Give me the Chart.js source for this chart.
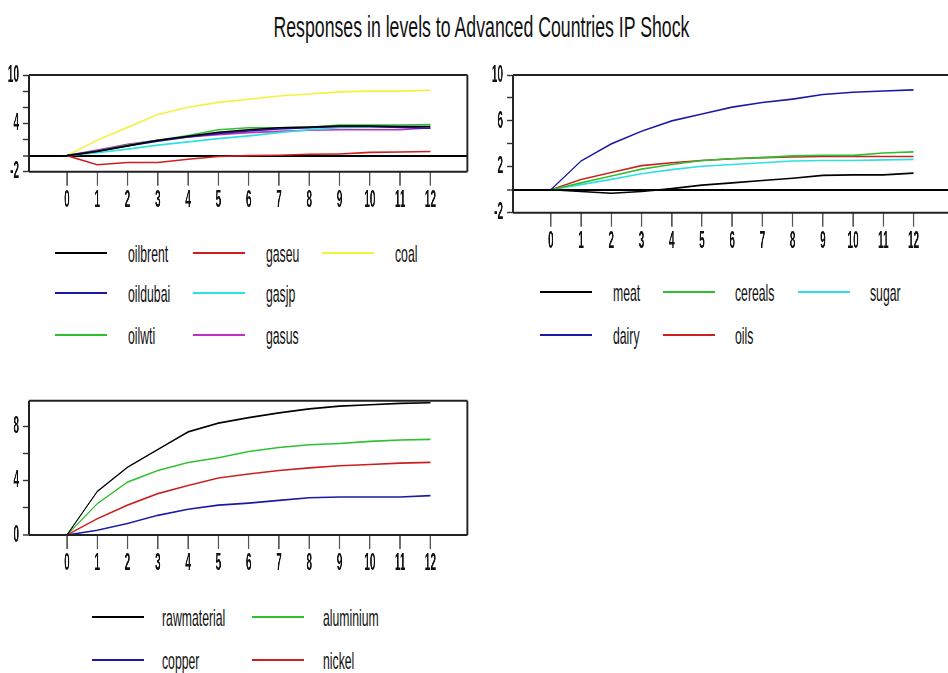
<!DOCTYPE html>
<html>
<head>
<meta charset="utf-8">
<script src="https://cdn.jsdelivr.net/npm/chart.js@4"></script>
<style>
  html, body { margin: 0; padding: 0; background: #fff; overflow: hidden; width: 948px; height: 673px; }
  body { position: relative; font-family: "Liberation Sans", Arial, sans-serif; color: #111; }
  .panel { position: absolute; transform-origin: 0 0; }
  .key { position: absolute; height: 2px; width: 52px; }
  .name { position: absolute; font-size: 24px; line-height: 24px; white-space: nowrap; transform-origin: 0 0; transform: scaleX(0.51); }
  #title { position: absolute; left: 0; top: 12px; width: 962px; text-align: center; font-size: 30px; line-height: 30px; }
  #title span { display: inline-block; white-space: nowrap; transform: scaleX(0.59); }
</style>
</head>
<body>
<div id="title"><span>Responses in levels to Advanced Countries IP Shock</span></div>
<script>
// horizons
const periods = [0, 1, 2, 3, 4, 5, 6, 7, 8, 9, 10, 11, 12];

// energy responses
const oilbrent = [0, 0.5, 1.2, 1.9, 2.4, 2.9, 3.2, 3.45, 3.55, 3.65, 3.65, 3.6, 3.6];
const oildubai = [0, 0.55, 1.2, 1.8, 2.3, 2.75, 3.05, 3.3, 3.45, 3.6, 3.6, 3.5, 3.4];
const oilwti = [0, 0.6, 1.3, 1.9, 2.5, 3.2, 3.45, 3.45, 3.5, 3.8, 3.8, 3.8, 3.85];
const gaseu = [0, -1.13, -0.85, -0.85, -0.45, -0.12, 0, 0.04, 0.16, 0.2, 0.4, 0.45, 0.5];
const gasjp = [0, 0.35, 0.8, 1.3, 1.7, 2.1, 2.45, 2.85, 3.2, 3.45, 3.5, 3.5, 3.6];
const gasus = [0, 0.7, 1.4, 1.9, 2.3, 2.6, 2.85, 3.0, 3.15, 3.2, 3.2, 3.2, 3.45];
const coal = [0, 1.9, 3.5, 5.1, 6.0, 6.6, 7.0, 7.4, 7.65, 7.9, 8.0, 8.0, 8.1];

// food responses
const meat = [0, -0.15, -0.3, -0.15, 0.1, 0.4, 0.6, 0.8, 1.0, 1.25, 1.3, 1.3, 1.45];
const dairy = [0, 2.5, 4.0, 5.1, 6.0, 6.6, 7.2, 7.6, 7.9, 8.3, 8.5, 8.6, 8.7];
const cereals = [0, 0.6, 1.2, 1.8, 2.2, 2.55, 2.7, 2.8, 2.95, 3.0, 3.0, 3.2, 3.3];
const oils = [0, 0.9, 1.5, 2.1, 2.35, 2.55, 2.7, 2.8, 2.85, 2.9, 2.9, 2.9, 2.9];
const sugar = [0, 0.45, 0.9, 1.4, 1.75, 2.05, 2.2, 2.35, 2.5, 2.55, 2.55, 2.6, 2.65];

// metals responses
const rawmaterial = [0, 3.2, 5.0, 6.3, 7.6, 8.25, 8.65, 9.0, 9.3, 9.5, 9.6, 9.7, 9.75];
const copper = [0, 0.35, 0.85, 1.45, 1.9, 2.2, 2.35, 2.55, 2.75, 2.8, 2.8, 2.8, 2.9];
const aluminium = [0, 2.3, 3.9, 4.75, 5.35, 5.7, 6.15, 6.45, 6.65, 6.75, 6.9, 7.0, 7.05];
const nickel = [0, 1.2, 2.2, 3.05, 3.65, 4.2, 4.5, 4.75, 4.95, 5.1, 5.2, 5.3, 5.35];

// y ticks
const yTicksTop = [-2, 0, 2, 4, 6, 8, 10];
const yLabels1 = [10, 4, -2];
const yLabels2 = [10, 6, 2, -2];
const yTicks3 = [0, 2, 4, 6, 8];
const yLabels3 = [8, 4, 0];

const C = {
  black: '#000000', blue: '#1a1aa6', green: '#2ec02e', red: '#cc1f1f',
  cyan: '#2ee0e0', magenta: '#c22ec2', yellow: '#f2f23a'
};
const SQ = 0.42;   // canvases are squeezed sideways like the original
const FONT = '"Liberation Sans", Arial, sans-serif';

const frame = {
  id: 'frame',
  afterDraw(chart) {
    const ctx = chart.ctx, a = chart.chartArea;
    ctx.save();
    ctx.strokeStyle = '#222';
    ctx.lineWidth = 2;
    ctx.beginPath();
    ctx.moveTo(a.left, a.top); ctx.lineTo(a.right, a.top);
    ctx.moveTo(a.left, a.bottom); ctx.lineTo(a.right, a.bottom);
    ctx.stroke();
    ctx.lineWidth = 2 / SQ;
    ctx.beginPath();
    ctx.moveTo(a.left, a.top); ctx.lineTo(a.left, a.bottom);
    ctx.moveTo(a.right, a.top); ctx.lineTo(a.right, a.bottom);
    ctx.stroke();
    ctx.restore();
  }
};

function makePanel(series, yMin, yMax, yTicks, yLabels, box, key) {
  const holder = document.createElement('div');
  holder.className = 'panel';
  holder.style.left = box.left + 'px';
  holder.style.top = box.top + 'px';
  holder.style.width = ((box.right - box.left) / SQ) + 'px';
  holder.style.height = (box.bottom - box.top) + 'px';
  holder.style.transform = 'scaleX(' + SQ + ')';
  const canvas = document.createElement('canvas');
  holder.appendChild(canvas);
  document.body.appendChild(holder);

  new Chart(canvas, {
    type: 'line',
    data: {
      datasets: series.map(s => ({
        label: s.name,
        data: periods.map((p, i) => ({ x: p, y: s.values[i] })),
        borderColor: s.color,
        borderWidth: 1.6,
        pointRadius: 0,
        tension: 0,
        fill: false
      }))
    },
    options: {
      responsive: true,
      maintainAspectRatio: false,
      animation: false,
      layout: { padding: { top: box.areaTop - box.top, right: (box.right - box.areaRight) / SQ, left: 0, bottom: 0 } },
      plugins: { legend: { display: false }, tooltip: { enabled: false } },
      scales: {
        x: {
          type: 'linear', min: -1.25, max: 13.22,
          afterBuildTicks: s => { s.ticks = periods.map(v => ({ value: v })); },
          afterFit: s => { s.height = box.bottom - box.areaBottom; s.paddingLeft = 0; s.paddingRight = 0; },
          border: { display: false },
          grid: { drawOnChartArea: false, tickLength: 14, tickWidth: 1.4 / SQ, tickColor: '#555' },
          ticks: { color: '#111', font: { family: FONT, size: 24, weight: 'bold' }, padding: 0, maxRotation: 0, autoSkip: false }
        },
        y: {
          type: 'linear', min: yMin, max: yMax,
          afterBuildTicks: s => { s.ticks = yTicks.map(v => ({ value: v })); },
          afterFit: s => { s.width = (box.areaLeft - box.left) / SQ; s.paddingTop = 0; s.paddingBottom = 0; },
          border: { display: false },
          grid: {
            color: c => (c.tick && c.tick.value === 0) ? '#000' : 'rgba(0,0,0,0)',
            lineWidth: c => (c.tick && c.tick.value === 0) ? 2 : 1,
            tickLength: 6 / SQ, tickWidth: 1.4, tickColor: '#333'
          },
          ticks: {
            color: '#111', font: { family: FONT, size: 24, weight: 'bold' }, padding: 4 / SQ, autoSkip: false,
            callback: v => yLabels.includes(v) ? String(v) : ''
          }
        }
      }
    },
    plugins: [frame]
  });

  // legend, filled column by column
  series.forEach((s, i) => {
    const col = Math.floor(i / key.perCol), row = i % key.perCol;
    const y = key.rows[row];
    const line = document.createElement('div');
    line.className = 'key';
    line.style.left = key.lineX[col] + 'px';
    line.style.top = (y - 1) + 'px';
    line.style.background = s.color;
    document.body.appendChild(line);
    const txt = document.createElement('div');
    txt.className = 'name';
    txt.textContent = s.name;
    txt.style.left = key.textX[col] + 'px';
    txt.style.top = (y - 11) + 'px';
    document.body.appendChild(txt);
  });
}

makePanel([
  { name: 'oilbrent', values: oilbrent, color: C.black },
  { name: 'oildubai', values: oildubai, color: C.blue },
  { name: 'oilwti', values: oilwti, color: C.green },
  { name: 'gaseu', values: gaseu, color: C.red },
  { name: 'gasjp', values: gasjp, color: C.cyan },
  { name: 'gasus', values: gasus, color: C.magenta },
  { name: 'coal', values: coal, color: C.yellow }
], -2, 10, yTicksTop, yLabels1,
  { left: 0, right: 472, top: 55, bottom: 215, areaLeft: 29, areaRight: 467, areaTop: 75, areaBottom: 171.7 },
  { perCol: 3, rows: [253, 293, 335], lineX: [55, 193, 322], textX: [128, 266, 395] });

makePanel([
  { name: 'meat', values: meat, color: C.black },
  { name: 'dairy', values: dairy, color: C.blue },
  { name: 'cereals', values: cereals, color: C.green },
  { name: 'oils', values: oils, color: C.red },
  { name: 'sugar', values: sugar, color: C.cyan }
], -2, 10, yTicksTop, yLabels2,
  { left: 480, right: 955, top: 55, bottom: 255, areaLeft: 513, areaRight: 950, areaTop: 75, areaBottom: 212.7 },
  { perCol: 2, rows: [292, 335], lineX: [540, 663, 798], textX: [613, 735, 870] });

makePanel([
  { name: 'rawmaterial', values: rawmaterial, color: C.black },
  { name: 'copper', values: copper, color: C.blue },
  { name: 'aluminium', values: aluminium, color: C.green },
  { name: 'nickel', values: nickel, color: C.red }
], 0, 9.9, yTicks3, yLabels3,
  { left: 0, right: 472, top: 390, bottom: 580, areaLeft: 29, areaRight: 467, areaTop: 400.7, areaBottom: 535 },
  { perCol: 2, rows: [617, 660], lineX: [92, 252], textX: [162, 323] });
</script>
</body>
</html>
